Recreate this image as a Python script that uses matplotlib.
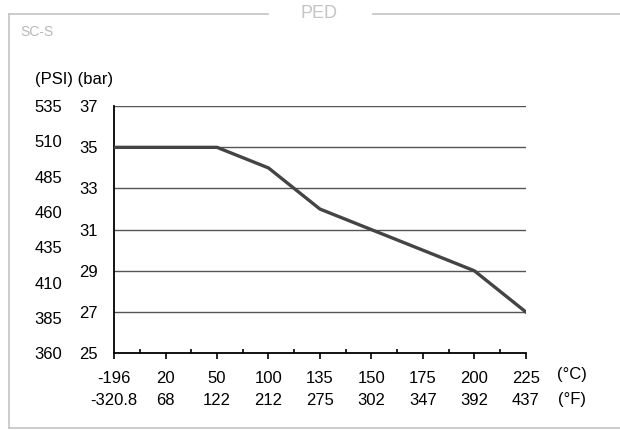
import numpy as np
import matplotlib.pyplot as plt
from matplotlib.lines import Line2D
from matplotlib.ticker import MultipleLocator

plt.rcParams['font.family'] = ['Liberation Sans', 'DejaVu Sans']

# temperature categories (evenly spaced on the chart)
temp_c = ["-196", "20", "50", "100", "135", "150", "175", "200", "225"]
temp_f = ["-320.8", "68", "122", "212", "275", "302", "347", "392", "437"]
pressure_bar = [35, 35, 35, 34, 32, 31, 30, 29, 27]

bar_ticks = [25, 27, 29, 31, 33, 35, 37]
psi_ticks = [360, 385, 410, 435, 460, 485, 510, 535]

fig = plt.figure(figsize=(6.2, 4.3), dpi=100)

# outer frame, with a gap in the top edge for the title
fc = '#c8c8c8'
L, B, T = 0.0145, 0.005, 0.9674
for xs, ys in [([L, L], [B, T]), ([L, 1.0], [B, B]),
               ([L, 0.432], [T, T]), ([0.602, 1.0], [T, T])]:
    fig.lines.append(Line2D(xs, ys, transform=fig.transFigure, color=fc, linewidth=1.3))
fig.text(0.515, 0.968, "PED", ha='center', va='center', fontsize=13, color='#c4c4c4')
fig.text(0.032, 0.926, "SC-S", ha='left', va='center', fontsize=10, color='#b8b8b8')

ax = fig.add_axes([0.184, 0.179, 0.664, 0.574])
x = np.arange(len(temp_c))
ax.set_xlim(0, len(temp_c) - 1)
ax.set_ylim(25, 37)

ax.set_yticks(bar_ticks)
for v in bar_ticks[1:]:
    ax.axhline(v, color='#555555', linewidth=1, zorder=1)
ax.plot(x, pressure_bar, color='#444444', linewidth=2.4, zorder=3)

ax.set_xticks(x)
ax.set_xticklabels([c + "\n" + f for c, f in zip(temp_c, temp_f)], fontsize=12, linespacing=1.55)
ax.xaxis.set_minor_locator(MultipleLocator(0.5))
ax.tick_params(axis='x', which='major', direction='out', length=4, width=1.2, pad=9)
ax.tick_params(axis='x', which='minor', direction='in', length=3, width=1.2)
ax.tick_params(axis='y', length=0, pad=11.5, labelsize=12)

for s in ['top', 'right']:
    ax.spines[s].set_visible(False)
ax.spines['left'].set_linewidth(1.3)
ax.spines['bottom'].set_linewidth(1.3)

# PSI scale on the left
ax2 = ax.twinx()
ax2.set_ylim(360, 535)
ax2.set_yticks(psi_ticks)
ax2.yaxis.set_ticks_position('left')
ax2.yaxis.set_label_position('left')
ax2.tick_params(axis='y', length=0, pad=37.5, labelsize=12)
for s in ax2.spines.values():
    s.set_visible(False)

ax.text(1.112, -0.089, "(°C)", transform=ax.transAxes, ha='center', va='center', fontsize=12)
ax.text(1.112, -0.19, "(°F)", transform=ax.transAxes, ha='center', va='center', fontsize=12)
fig.text(0.056, 0.816, "(PSI) (bar)", ha='left', va='center', fontsize=12)

fig.savefig("out.png", dpi=100)
